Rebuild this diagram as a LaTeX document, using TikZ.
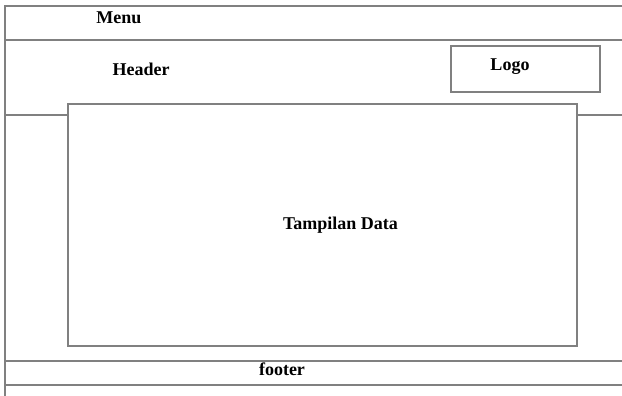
\documentclass[tikz,border=0pt]{standalone}
\usepackage{fontspec}
\setmainfont{Liberation Serif}
\definecolor{framegray}{RGB}{128,128,128}
\tikzset{
  frameline/.style={draw=framegray,line width=1pt},
  framebox/.style={rectangle,draw=framegray,line width=1pt,inner sep=0pt},
  lbl/.style={font=\fontsize{9}{11}\selectfont\bfseries,inner sep=0pt}
}
\begin{document}
\begin{tikzpicture}[x=0.5pt,y=-0.5pt]
        \useasboundingbox (0,0) rectangle (622,396);
        \coordinate(tl)at(5,6);\coordinate(tr)at(622,6);\coordinate(bl)at(5,396);
        \node[framebox,minimum width=74.5pt,minimum height=23pt] (logobox) at (525.5,68.5) {};
        \node[framebox,minimum width=254.5pt,minimum height=121pt] (databox) at (322.75,225.25) {};
        \node[lbl] (menu) at (119,18) {Menu};
        \node[lbl] (header) at (141,69.5) {Header};
        \node[lbl] (logo) at (510,67) {Logo};
        \node[lbl] (data) at (340.5,225) {Tampilan Data};
        \node[lbl] (footer) at (282,369) {footer};
        \draw[frameline] (bl)--(tl)--(tr);
        \draw[frameline] (5,40)--(622,40);
        \draw[frameline] (5,115)--(5,115 -| databox.west) (databox.east |- 0,115)--(622,115);
        \draw[frameline] (5,361)--(622,361) (5,385)--(622,385);
    \end{tikzpicture}
\end{document}
